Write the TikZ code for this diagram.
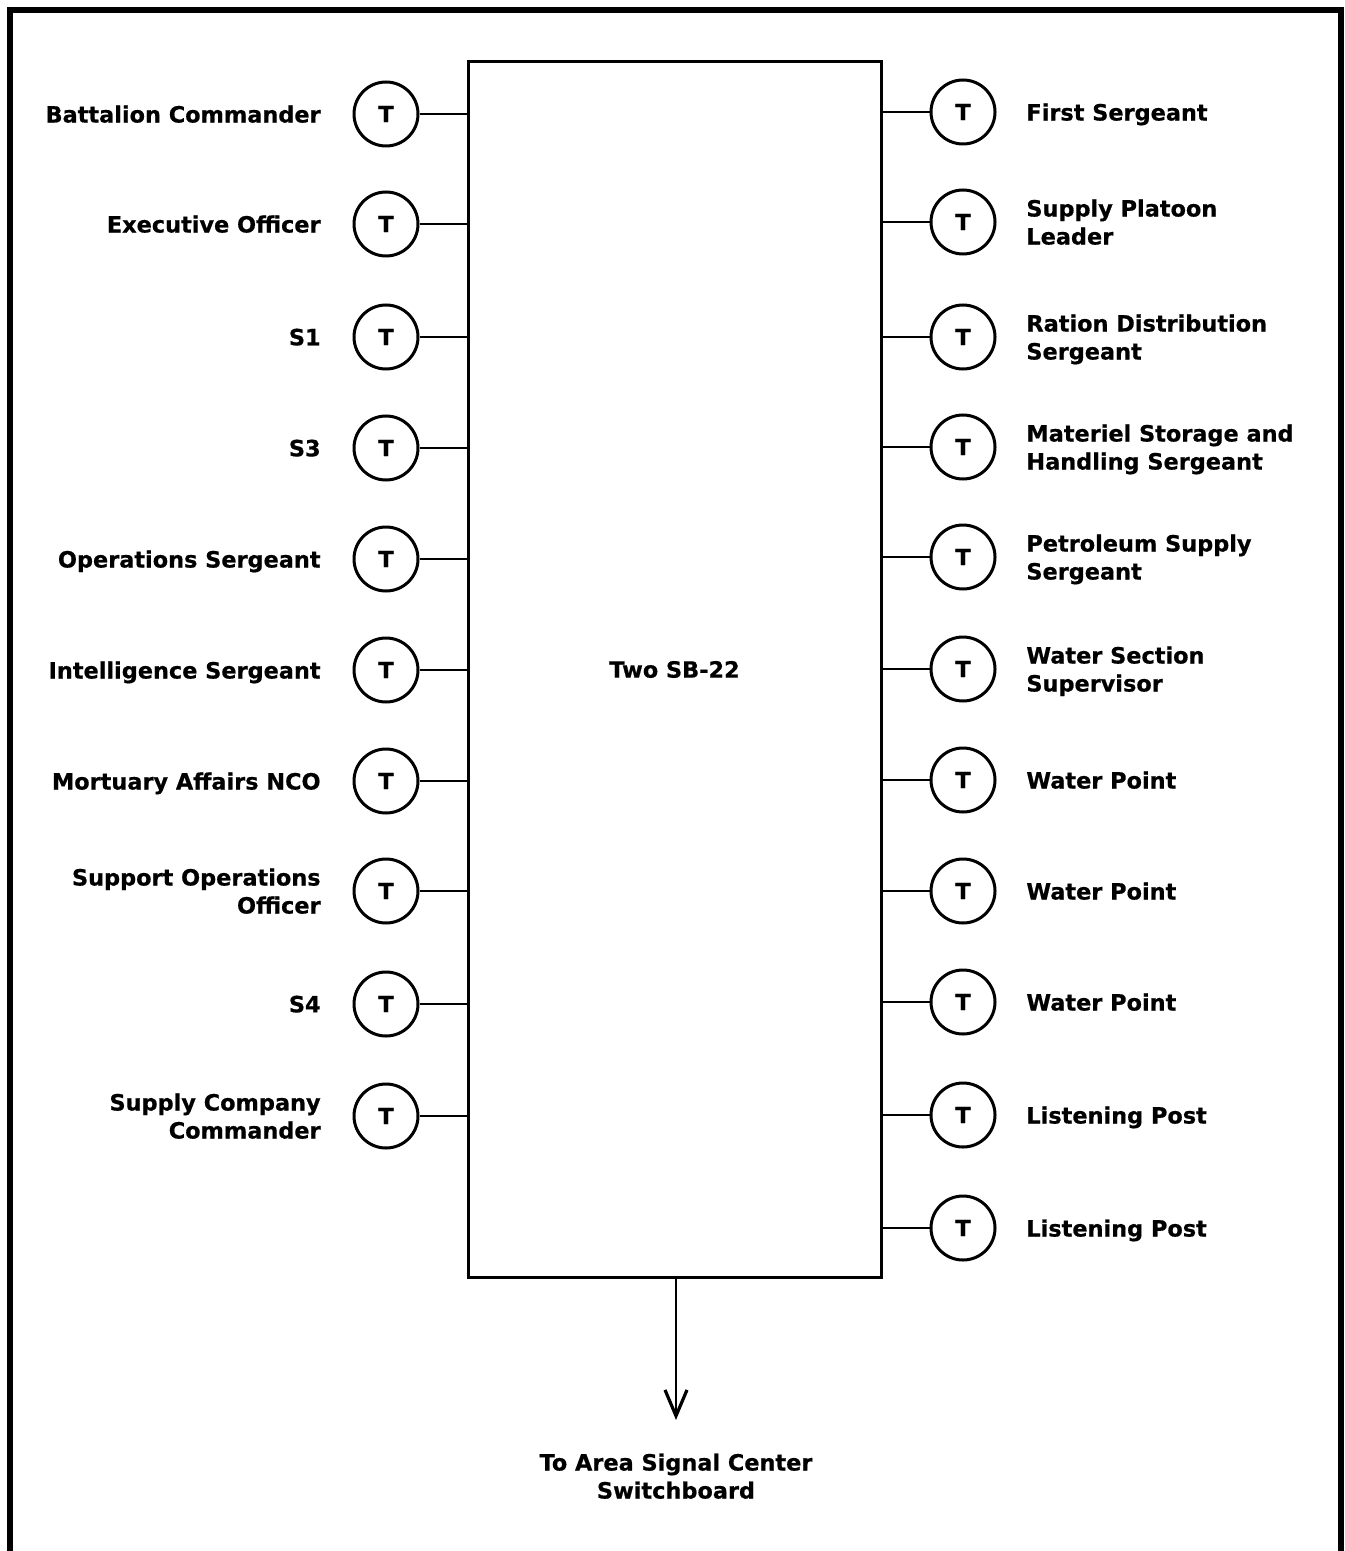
\documentclass[tikz,border=0pt]{standalone}
\usepackage{fontspec}
\setmainfont{DejaVu Sans}[BoldFeatures={FakeBold=0.6}]
\usetikzlibrary{arrows.meta}
\begin{document}
\begin{tikzpicture}[x=0.5pt,y=-0.5pt,
  tel/.style={circle,draw,line width=1.5pt,minimum size=32pt,inner sep=0pt,font=\fontsize{11.2}{14}\selectfont\bfseries},
  lbl/.style={font=\fontsize{11.2}{14}\selectfont\bfseries,inner sep=0pt,text depth=0pt},
  llbl/.style={lbl,anchor=east,align=right},
  rlbl/.style={lbl,anchor=west,align=left},
  wire/.style={line width=1.4pt},
  frame/.style={line width=2.6pt}
]
\useasboundingbox (0,0) rectangle (1344,1551);
\draw[frame] (10,1560) -- (10,10) -- (1341,10) -- (1341,1560);
\node[draw,line width=1.5pt,minimum width=206.5pt,minimum height=607.5pt,inner sep=0pt,
  font=\fontsize{11.2}{14}\selectfont\bfseries] (box) at (674.5,669.5) {Two SB-22};
% left side
\foreach \i/\y/\t in {1/114/Battalion Commander,2/224/Executive Officer,3/337/S1,4/448/S3,
  5/559/Operations Sergeant,6/670/Intelligence Sergeant,7/781/Mortuary Affairs NCO,
  8/891/Support Operations\\Officer,9/1004/S4,10/1116/Supply Company\\Commander}{
  \node[tel] (L\i) at (386,\y) {T};
  \node[llbl] (LT\i) at (321,\y) {\t};
  \draw[wire] (L\i.east) -- (L\i.east -| box.west);
}
% right side
\foreach \i/\y/\t in {1/112/First Sergeant,2/222/Supply Platoon\\Leader,3/337/Ration Distribution\\Sergeant,
  4/447/Materiel Storage and\\Handling Sergeant,5/557/Petroleum Supply\\Sergeant,6/669/Water Section\\Supervisor,
  7/780/Water Point,8/891/Water Point,9/1002/Water Point,10/1115/Listening Post,11/1228/Listening Post}{
  \node[tel] (R\i) at (963,\y) {T};
  \node[rlbl] (RT\i) at (1026,\y) {\t};
  \draw[wire] (R\i.west) -- (R\i.west -| box.east);
}
\coordinate (tip) at (676,1420);
\draw[wire,-{Straight Barb[length=13pt,width=11pt,line width=1.6pt]}] (box.south -| tip) -- (tip);
\node[lbl,align=center] (dest) at (676,1476) {To Area Signal Center\\Switchboard};
\end{tikzpicture}
\end{document}
